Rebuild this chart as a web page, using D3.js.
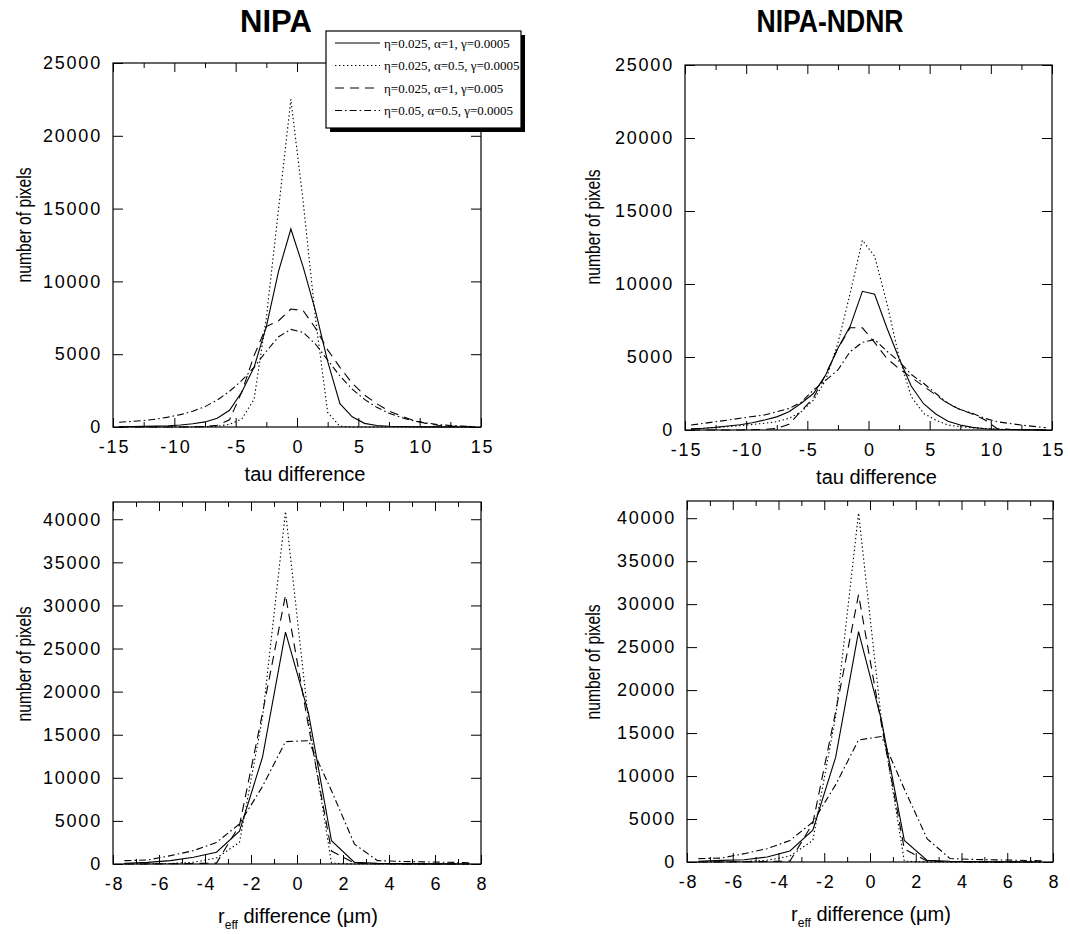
<!DOCTYPE html>
<html>
<head>
<meta charset="utf-8">
<script src="https://cdn.jsdelivr.net/npm/d3@7"></script>
<style>
  html, body { margin: 0; padding: 0; background: #fff; }
  svg { display: block; }
  .tick text { font-family: "Liberation Sans", Arial, Helvetica, sans-serif; font-size: 18px; letter-spacing: 1.8px; fill: #000; }
  .tick line { stroke: #000; stroke-width: 1; }
  .axis-title { font-family: "Liberation Sans", Arial, Helvetica, sans-serif; font-size: 20px; fill: #000; }
  .panel-title { font-family: "Liberation Sans", Arial, Helvetica, sans-serif; font-weight: bold; font-size: 31px; fill: #000; }
  .legend-text { font-family: "Liberation Serif", "Times New Roman", serif; font-size: 13px; fill: #000; }
</style>
</head>
<body>
<svg id="chart" width="1070" height="934"></svg>
<script>
// ---- data -------------------------------------------------------------
// histogram bin centres
const tauBins  = [-14.5,-13.5,-12.5,-11.5,-10.5,-9.5,-8.5,-7.5,-6.5,-5.5,-4.5,-3.5,-2.5,-1.5,-0.5,
                   0.5,1.5,2.5,3.5,4.5,5.5,6.5,7.5,8.5,9.5,10.5,11.5,12.5,13.5,14.5];
const reffBins = [-7.5,-6.5,-5.5,-4.5,-3.5,-2.5,-1.5,-0.5,0.5,1.5,2.5,3.5,4.5,5.5,6.5,7.5];

const tauTicks       = [-15,-10,-5,0,5,10,15];
const tauMinorTicks  = [-12.5,-7.5,-2.5,2.5,7.5,12.5];
const reffTicks      = [-8,-6,-4,-2,0,2,4,6,8];
const reffMinorTicks = [-7,-5,-3,-1,1,3,5,7];
const tauCountTicks  = [0,5000,10000,15000,20000,25000];
const reffCountTicks = [0,5000,10000,15000,20000,25000,30000,35000,40000];

const runLabels = [
  "η=0.025, α=1, γ=0.0005",
  "η=0.025, α=0.5, γ=0.0005",
  "η=0.025, α=1, γ=0.005",
  "η=0.05, α=0.5, γ=0.0005"
];

// NIPA, tau difference
const nipaTauSolid   = [20,30,40,60,90,140,220,350,600,1150,2400,4100,6900,10700,13600,11000,8000,4500,1600,700,250,100,50,30,20,10,10,5,5,0];
const nipaTauDotted  = [0,0,0,0,0,0,0,20,50,180,550,1900,7500,15000,22500,15500,7500,1000,50,0,0,0,0,0,0,0,0,0,0,0];
const nipaTauDashed  = [0,0,0,0,0,0,10,30,120,500,2400,4900,6900,7300,8100,8000,6800,5300,4100,3000,2200,1600,1100,750,450,250,120,60,30,10];
const nipaTauDashDot = [330,380,450,540,680,850,1080,1400,1850,2450,3200,4100,5200,6200,6700,6500,5700,4600,3500,2600,1900,1350,950,650,420,280,170,100,60,30];

// NIPA-NDNR, tau difference
const ndnrTauSolid   = [80,120,180,270,360,500,680,900,1250,1830,2500,3770,5600,7100,9500,9300,7000,4900,3000,1800,1100,600,340,180,90,50,30,20,10,5];
const ndnrTauDotted  = [80,120,170,230,300,380,460,570,800,1250,2050,3420,5940,9360,13000,11900,8700,5000,2280,1140,680,340,230,150,100,60,40,30,20,10];
const ndnrTauDashed  = [0,0,0,0,0,20,50,100,400,1300,2200,3800,5600,7000,7000,6000,4900,4200,3600,3000,2400,1800,1400,1100,700,100,50,20,10,0];
const ndnrTauDashDot = [340,450,570,680,800,920,1030,1250,1480,1900,2740,3400,4110,5370,6000,6200,5400,4700,3800,3200,2500,1830,1400,1140,800,570,450,340,250,150];

// NIPA, r_eff difference
const nipaReffSolid   = [80,190,390,780,1360,3800,12400,26900,17500,2700,190,80,40,20,10,5];
const nipaReffDotted  = [0,20,60,200,700,2500,17000,40900,16700,100,0,0,0,0,0,0];
const nipaReffDashed  = [0,10,30,60,100,4500,17500,31200,16000,1500,100,30,10,0,0,0];
const nipaReffDashDot = [390,460,970,1550,2500,4650,9000,14200,14300,8500,2300,390,300,250,200,150];

// NIPA-NDNR, r_eff difference
const ndnrReffSolid   = [80,190,270,580,1280,3700,12200,26800,16500,2520,190,80,40,20,10,5];
const ndnrReffDotted  = [0,20,60,200,700,2500,17000,40600,16500,100,0,0,0,0,0,0];
const ndnrReffDashed  = [0,10,30,60,100,4500,17500,31100,16000,1500,100,30,10,0,0,0];
const ndnrReffDashDot = [390,460,970,1550,2500,4650,9000,14200,14600,8500,2700,400,300,250,200,150];

// ---- styles -----------------------------------------------------------
const dashStyles = [null, "1.4,2.6", "9,6", "7,3,1.6,3"];
const plainNumber = d => String(d);   // ASCII hyphen for negatives

// ---- layout -----------------------------------------------------------
const panels = [
  { bins: tauBins, series: [nipaTauSolid, nipaTauDotted, nipaTauDashed, nipaTauDashDot],
    xDomain: [-15, 15], yDomain: [0, 25000], xTicks: tauTicks, xMinor: tauMinorTicks, yTicks: tauCountTicks,
    left: 113, right: 481, top: 63, bottom: 427, xlabel: "tau", ylabelCenter: 225, ylabelX: 31 },
  { bins: tauBins, series: [ndnrTauSolid, ndnrTauDotted, ndnrTauDashed, ndnrTauDashDot],
    xDomain: [-15, 15], yDomain: [0, 25000], xTicks: tauTicks, xMinor: tauMinorTicks, yTicks: tauCountTicks,
    left: 685, right: 1052, top: 65, bottom: 430, xlabel: "tau", ylabelCenter: 227, ylabelX: 600 },
  { bins: reffBins, series: [nipaReffSolid, nipaReffDotted, nipaReffDashed, nipaReffDashDot],
    xDomain: [-8, 8], yDomain: [0, 42000], xTicks: reffTicks, xMinor: reffMinorTicks, yTicks: reffCountTicks,
    left: 113, right: 481, top: 502, bottom: 864, xlabel: "reff", ylabelCenter: 664, ylabelX: 31 },
  { bins: reffBins, series: [ndnrReffSolid, ndnrReffDotted, ndnrReffDashed, ndnrReffDashDot],
    xDomain: [-8, 8], yDomain: [0, 42000], xTicks: reffTicks, xMinor: reffMinorTicks, yTicks: reffCountTicks,
    left: 687, right: 1053, top: 501, bottom: 862, xlabel: "reff", ylabelCenter: 662, ylabelX: 600 }
];

const svg = d3.select("#chart");

panels.forEach(p => {
  const x = d3.scaleLinear().domain(p.xDomain).range([p.left, p.right]);
  const y = d3.scaleLinear().domain(p.yDomain).range([p.bottom, p.top]);
  const g = svg.append("g");

  // curves
  const line = d3.line().x((d, i) => x(p.bins[i])).y(d => y(d));
  p.series.forEach((s, k) => {
    g.append("path")
      .datum(s)
      .attr("d", line)
      .attr("fill", "none")
      .attr("stroke", "#000")
      .attr("stroke-width", 1.1)
      .attr("stroke-dasharray", dashStyles[k]);
  });

  // frame
  g.append("rect")
    .attr("x", p.left).attr("y", p.top)
    .attr("width", p.right - p.left).attr("height", p.bottom - p.top)
    .attr("fill", "none").attr("stroke", "#000").attr("stroke-width", 1.2);

  // bottom axis: major ticks with labels, minor ticks
  const bx = g.append("g").attr("transform", `translate(0,${p.bottom})`)
    .call(d3.axisBottom(x).tickValues(p.xTicks).tickSize(-9).tickPadding(13.5).tickFormat(plainNumber));
  g.append("g").attr("transform", `translate(0,${p.bottom})`)
    .call(d3.axisBottom(x).tickValues(p.xMinor).tickSize(-5).tickFormat(""));
  // top axis
  g.append("g").attr("transform", `translate(0,${p.top})`)
    .call(d3.axisTop(x).tickValues(p.xTicks).tickSize(-9).tickFormat(""));
  g.append("g").attr("transform", `translate(0,${p.top})`)
    .call(d3.axisTop(x).tickValues(p.xMinor).tickSize(-5).tickFormat(""));
  // left axis with labels
  g.append("g").attr("transform", `translate(${p.left},0)`)
    .call(d3.axisLeft(y).tickValues(p.yTicks).tickSize(-10).tickPadding(11).tickFormat(plainNumber));
  // right axis
  g.append("g").attr("transform", `translate(${p.right},0)`)
    .call(d3.axisRight(y).tickValues(p.yTicks).tickSize(-10).tickFormat(""));

  g.selectAll(".domain").remove();
  bx.selectAll(".tick text").attr("dx", "1px");

  // x axis title
  const midX = (p.left + p.right) / 2;
  if (p.xlabel === "tau") {
    g.append("text").attr("class", "axis-title")
      .attr("x", midX + 8).attr("y", p.bottom + 54)
      .attr("text-anchor", "middle")
      .text("tau difference");
  } else {
    const t = g.append("text").attr("class", "axis-title")
      .attr("x", midX + 1).attr("y", p.bottom + 59)
      .attr("text-anchor", "middle");
    t.append("tspan").text("r");
    t.append("tspan").attr("font-size", "12px").attr("dy", 6).text("eff");
    t.append("tspan").attr("dy", -6).text(" difference (μm)");
  }

  // y axis title
  g.append("text").attr("class", "axis-title")
    .attr("transform", `translate(${p.ylabelX},${p.ylabelCenter}) rotate(-90)`)
    .attr("text-anchor", "middle")
    .attr("textLength", 115).attr("lengthAdjust", "spacingAndGlyphs")
    .text("number of pixels");
});

// panel titles
svg.append("text").attr("class", "panel-title")
  .attr("x", 276).attr("y", 32).attr("text-anchor", "middle").text("NIPA");
svg.append("text").attr("class", "panel-title")
  .attr("x", 830).attr("y", 32).attr("text-anchor", "middle")
  .attr("textLength", 147).attr("lengthAdjust", "spacingAndGlyphs").text("NIPA-NDNR");

// legend box with drop shadow
const lg = svg.append("g").attr("transform", "translate(326,31)");
const lw = 195, lh = 97;
lg.append("rect").attr("x", 4).attr("y", 4).attr("width", lw).attr("height", lh).attr("fill", "#000");
lg.append("rect").attr("x", 0).attr("y", 0).attr("width", lw).attr("height", lh)
  .attr("fill", "#fff").attr("stroke", "#000").attr("stroke-width", 1.2);
runLabels.forEach((lab, k) => {
  const yy = 12 + k * 22.5;
  lg.append("line").attr("x1", 9).attr("x2", 54).attr("y1", yy).attr("y2", yy)
    .attr("stroke", "#000").attr("stroke-width", 1).attr("stroke-dasharray", dashStyles[k]);
  lg.append("text").attr("class", "legend-text")
    .attr("x", 58).attr("y", yy).attr("dy", "0.35em").text(lab);
});
</script>
</body>
</html>
